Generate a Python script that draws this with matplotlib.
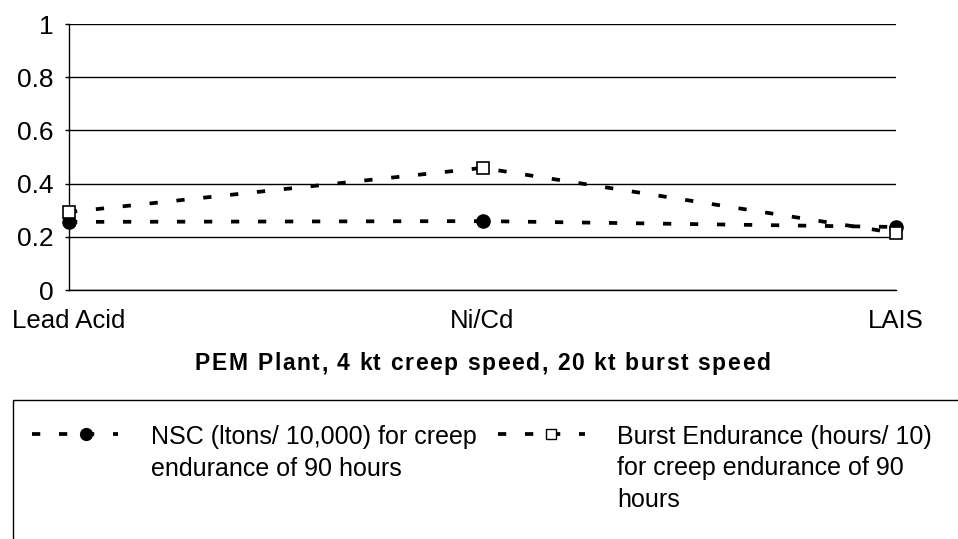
import numpy as np
import matplotlib
matplotlib.use("Agg")
import matplotlib.pyplot as plt
from matplotlib.lines import Line2D
from matplotlib.patches import Rectangle
from matplotlib.font_manager import FontProperties
from matplotlib.textpath import TextToPath

categories = ["Lead Acid", "Ni/Cd", "LAIS"]
nsc_values = [0.256, 0.259, 0.237]
burst_values = [0.293, 0.459, 0.214]
y_ticks = [0, 0.2, 0.4, 0.6, 0.8, 1.0]
y_tick_labels = ["0", "0.2", "0.4", "0.6", "0.8", "1"]
title = "PEM Plant, 4 kt creep speed, 20 kt burst speed"
nsc_label = ["NSC (ltons/ 10,000) for creep", "endurance of 90 hours"]
burst_label = ["Burst Endurance (hours/ 10)", "for creep endurance of 90", "hours"]

FONT = ["Liberation Sans", "DejaVu Sans"]
plt.rcParams["font.family"] = FONT
W, H = 958, 539

fig = plt.figure(figsize=(W / 100, H / 100), dpi=100)
ax = fig.add_axes([69 / W, 1 - 290 / H, (896 - 69) / W, (290 - 24) / H])

x = np.arange(len(categories))

dash = (0, (2.2, 5.0))
lw = 2.7

for vals in (nsc_values, burst_values):
    ax.plot(x, vals, color="black", lw=lw, linestyle=dash, dash_capstyle="butt",
            clip_on=False, zorder=3)

ax.plot(x, nsc_values, linestyle="none", marker="o", ms=9.5, color="black",
        clip_on=False, zorder=4)
ax.plot(x, burst_values, linestyle="none", marker="s", ms=9, mfc="white",
        mec="black", mew=1.2, clip_on=False, zorder=5)

ax.set_xlim(0, len(categories) - 1)
ax.set_ylim(0, 1)
ax.set_yticks(y_ticks)
ax.set_yticklabels(y_tick_labels, fontsize=19)
ax.set_xticks(x)
ax.set_xticklabels(categories, fontsize=18.5)
ax.tick_params(axis="x", length=0, pad=14)
ax.tick_params(axis="y", length=3, width=1, pad=8)
ax.yaxis.grid(True, color="black", lw=1)
ax.set_axisbelow(True)
for s in ("top", "right"):
    ax.spines[s].set_visible(False)
ax.spines["left"].set_linewidth(1)
ax.spines["bottom"].set_linewidth(1)

# letter-spaced bold caption under the axis
tprop = FontProperties(family="Liberation Sans", weight="bold", size=16.5)
ttp = TextToPath()
bar_w = ttp.get_text_width_height_descent("|", tprop, ismath=False)[0]


def advance_px(s):
    w = ttp.get_text_width_height_descent(s + "|", tprop, ismath=False)[0] - bar_w
    return w * 100 / 72


t_left, t_right, t_base = 195, 770, 370
natural = advance_px(title)
track = (t_right - t_left - natural) / (len(title) - 1)
for i, ch in enumerate(title):
    if ch == " ":
        continue
    px = t_left + advance_px(title[:i]) + i * track
    fig.text(px / W, 1 - t_base / H, ch, ha="left", va="baseline",
             fontproperties=tprop)

# legend box, open at the bottom and right
box_top = 400
fig.patches.append(Rectangle((13 / W, -0.05), 1.0, 1 - box_top / H + 0.05,
                             transform=fig.transFigure, fill=False,
                             ec="black", lw=1))

first_base, line_step = 444, 31.5


def legend_entry(x0, x1, xm, y, marker, mfc, ms, text_x, lines):
    yf = 1 - y / H
    fig.lines.append(Line2D([x0 / W, x1 / W], [yf, yf], transform=fig.transFigure,
                            color="black", lw=lw, linestyle=dash, dash_capstyle="butt"))
    fig.lines.append(Line2D([xm / W], [yf], transform=fig.transFigure, marker=marker,
                            ms=ms, mfc=mfc, mec="black", mew=1.0, linestyle="none"))
    for k, line in enumerate(lines):
        fig.text(text_x / W, 1 - (first_base + k * line_step) / H, line,
                 ha="left", va="baseline", fontsize=18)


legend_entry(32, 118, 86, 434, "o", "black", 8.5, 151, nsc_label)
legend_entry(498, 585, 551, 434, "s", "white", 7, 617, burst_label)

fig.savefig("out.png", dpi=100)
